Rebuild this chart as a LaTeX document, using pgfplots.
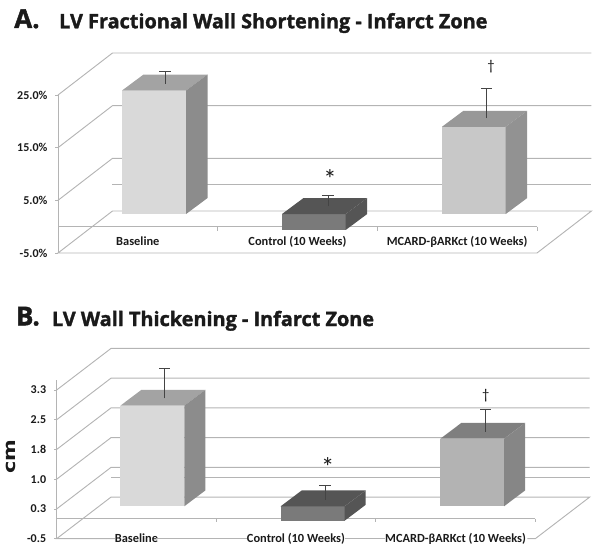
\documentclass[border=0pt]{standalone}
\usepackage{fontspec}
\usepackage{pgfplots}
\pgfplotsset{compat=1.18}
\setmainfont{Carlito}
\newfontfamily\headfont[BoldFeatures={FakeBold=1.6}]{Open Sans}
\newfontfamily\unitfont{DejaVu Sans}

\definecolor{gridcol}{HTML}{B4B4B4}
\definecolor{txtcol}{HTML}{1A1A1A}
\definecolor{errcol}{HTML}{444444}
\definecolor{baseF}{HTML}{D9D9D9}
\definecolor{baseT}{HTML}{A3A3A3}
\definecolor{baseS}{HTML}{8C8C8C}
\definecolor{ctrlF}{HTML}{7A7A7A}
\definecolor{ctrlT}{HTML}{555555}
\definecolor{ctrlS}{HTML}{555555}
\definecolor{mcaF}{HTML}{C8C8C8}
\definecolor{mcaT}{HTML}{989898}
\definecolor{mcaS}{HTML}{929292}
\definecolor{mcbF}{HTML}{B3B3B3}
\definecolor{mcbT}{HTML}{7F7F7F}
\definecolor{mcbS}{HTML}{868686}

% x0, x1, value, front, top, side
\newcommand{\drawbar}[6]{%
  \pgfmathsetmacro\yhi{\baroff+max(#3,0)}%
  \pgfmathsetmacro\ylo{\baroff+min(#3,0)}%
  \pgfmathsetmacro\xl{#1+\bardx}%
  \pgfmathsetmacro\xr{#2+\bardx}%
  \pgfmathsetmacro\yu{\yhi+\bardy}%
  \pgfmathsetmacro\yd{\ylo+\bardy}%
  \addplot[fill=#4,draw=none] coordinates {(#1,\ylo) (#2,\ylo) (#2,\yhi) (#1,\yhi)};
  \addplot[fill=#5,draw=none] coordinates {(#1,\yhi) (#2,\yhi) (\xr,\yu) (\xl,\yu)};
  \addplot[fill=#6,draw=none] coordinates {(#2,\ylo) (\xr,\yd) (\xr,\yu) (#2,\yhi)};
}
\newcommand{\drawerr}[3]{%
  \addplot[draw=none,mark=none,error bars/.cd,y dir=plus,y explicit,
    error bar style={draw=errcol,line width=0.55pt},
    error mark options={rotate=90,mark size=4.2pt,draw=errcol,line width=0.55pt}]
    coordinates {(#1,#2) +- (0,#3)};
}

\pgfplotsset{
  panel/.style={
    scale only axis,clip=false,
    xmin=0,xmax=3,
    axis lines*=left,axis line style={draw=none},
    xtick={0.5,1.5,2.5},
    xticklabels={Baseline,Control (10 Weeks),MCARD-βARKct (10 Weeks)},
    x tick style={draw=none},
    y tick style={draw=gridcol,line width=0.6pt},
    ytick align=outside,
    major tick length=2pt,
    tick label style={font=\bfseries\fontsize{9}{10}\selectfont,text=txtcol},
    x tick label style={font=\bfseries\fontsize{9.3}{10}\selectfont},
    y tick label style={xshift=-2.4pt},
  },
  wire/.style={gridcol,line width=0.7pt},
}

\begin{document}
\begin{tikzpicture}
\useasboundingbox (0,0) rectangle (450pt,418.5pt);

% panel A
\begin{axis}[panel,
  at={(43.5pt,228.75pt)},anchor=south west,
  width=359.25pt,height=118.5pt,
  ymin=-5,ymax=25,
  ytick={-5,5,15,25},
  yticklabels={-5.0\%,5.0\%,15.0\%,25.0\%},
  x tick label style={anchor=base,yshift=5.5pt},
]
  % back wall
  \addplot[wire] coordinates {(0.341,2.97) (3.341,2.97) (3,-5) (0,-5) (0.341,2.97)};
  \addplot[wire] coordinates {(0.341,7.97) (3.341,7.97)};
  \addplot[wire] coordinates {(0,5) (0.341,12.97) (3.341,12.97)};
  \addplot[wire] coordinates {(0,15) (0.341,22.97) (3.341,22.97)};
  \addplot[wire] coordinates {(0,25) (0.341,32.97) (3.341,32.97)};
  \addplot[wire] coordinates {(0,-5) (0,25)};
  % front axis at zero
  \addplot[wire] coordinates {(0,0) (3,0)};
  \addplot[wire] coordinates {(0,0) (0,-0.8)};
  \addplot[wire] coordinates {(1,0) (1,-0.8)};
  \addplot[wire] coordinates {(2,0) (2,-0.8)};
  \addplot[wire] coordinates {(3,0) (3,-0.8)};
  % bars
  \def\baroff{2.4}\def\bardx{0.1347}\def\bardy{3.04}
  \drawbar{0.401}{0.802}{23.45}{baseF}{baseT}{baseS}
  \drawbar{1.403}{1.802}{-3.03}{ctrlF}{ctrlT}{ctrlS}
  \drawbar{2.405}{2.804}{16.57}{mcaF}{mcaT}{mcaS}
  \drawerr{0.670}{27.09}{2.46}
  \drawerr{1.691}{3.92}{2.09}
  \drawerr{2.685}{20.63}{5.64}
  \node[text=txtcol,font=\fontsize{20}{20}\selectfont] at (axis cs:1.703,9.0) {*};
  \node[text=txtcol,font=\fontsize{11}{11}\selectfont] at (axis cs:2.712,30.3) {†};
\end{axis}

% panel B
\begin{axis}[panel,
  at={(42.5pt,14.5pt)},anchor=south west,
  width=359pt,height=111.5pt,
  ymin=-0.5,ymax=3.25,
  ytick={-0.5,0.25,1,1.75,2.5,3.25},
  yticklabels={-0.5,0.3,1.0,1.8,2.5,3.3},
  x tick label style={anchor=base,yshift=-2.6pt},
]
  \addplot[wire] coordinates {(0.341,0.55) (3.341,0.55) (3,-0.5) (2.95,-0.5)};
  \addplot[wire] coordinates {(2.06,-0.5) (1.81,-0.5)};
  \addplot[wire] coordinates {(1.19,-0.5) (0.625,-0.5)};
  \addplot[wire] coordinates {(0.365,-0.5) (0,-0.5) (0.341,0.55)};
  \addplot[wire] coordinates {(0.341,1.05) (3.341,1.05)};
  \addplot[wire] coordinates {(0,0.25) (0.341,1.30) (3.341,1.30)};
  \addplot[wire] coordinates {(0,1) (0.341,2.05) (3.341,2.05)};
  \addplot[wire] coordinates {(0,1.75) (0.341,2.80) (3.341,2.80)};
  \addplot[wire] coordinates {(0,2.5) (0.341,3.55) (3.341,3.55)};
  \addplot[wire] coordinates {(0,3.25) (0.341,4.30) (3.341,4.30)};
  \addplot[wire] coordinates {(0,-0.5) (0,3.5)};
  \addplot[wire] coordinates {(0,0) (3,0)};
  \addplot[wire] coordinates {(0,0) (0,-0.08)};
  \addplot[wire] coordinates {(1,0) (1,-0.08)};
  \addplot[wire] coordinates {(2,0) (2,-0.08)};
  \addplot[wire] coordinates {(3,0) (3,-0.08)};
  \def\baroff{0.317}\def\bardx{0.132}\def\bardy{0.40}
  \drawbar{0.399}{0.800}{2.537}{baseF}{baseT}{baseS}
  \drawbar{1.404}{1.805}{-0.363}{ctrlF}{ctrlT}{ctrlS}
  \drawbar{2.405}{2.804}{1.705}{mcbF}{mcbT}{mcbS}
  \drawerr{0.677}{3.041}{0.746}
  \drawerr{1.682}{0.476}{0.378}
  \drawerr{2.689}{2.191}{0.562}
  \node[text=txtcol,font=\fontsize{20}{20}\selectfont] at (axis cs:1.699,1.30) {*};
  \node[text=txtcol,font=\fontsize{11}{11}\selectfont] at (axis cs:2.689,3.10) {†};
\end{axis}

% panel headings
\node[anchor=base west,inner sep=0pt,font=\headfont\bfseries\fontsize{19.5}{20}\selectfont,text=txtcol] at (10.5pt,397.5pt) {A.};
\node[anchor=base west,inner sep=0pt,font=\headfont\bfseries\fontsize{14.9}{15}\selectfont,text=txtcol] at (44.2pt,397.3pt) {LV Fractional Wall Shortening - Infarct Zone};
\node[anchor=base west,inner sep=0pt,font=\headfont\bfseries\fontsize{19.5}{20}\selectfont,text=txtcol] at (11.8pt,174.5pt) {B.};
\node[anchor=base west,inner sep=0pt,font=\headfont\bfseries\fontsize{14.9}{15}\selectfont,text=txtcol] at (38.8pt,174pt) {LV Wall Thickening - Infarct Zone};
\node[rotate=90,inner sep=0pt,font=\unitfont\bfseries\fontsize{12.5}{13}\selectfont,text=txtcol] at (8.5pt,76pt) {\scalebox{1.25}[1]{cm}};
\end{tikzpicture}
\end{document}
